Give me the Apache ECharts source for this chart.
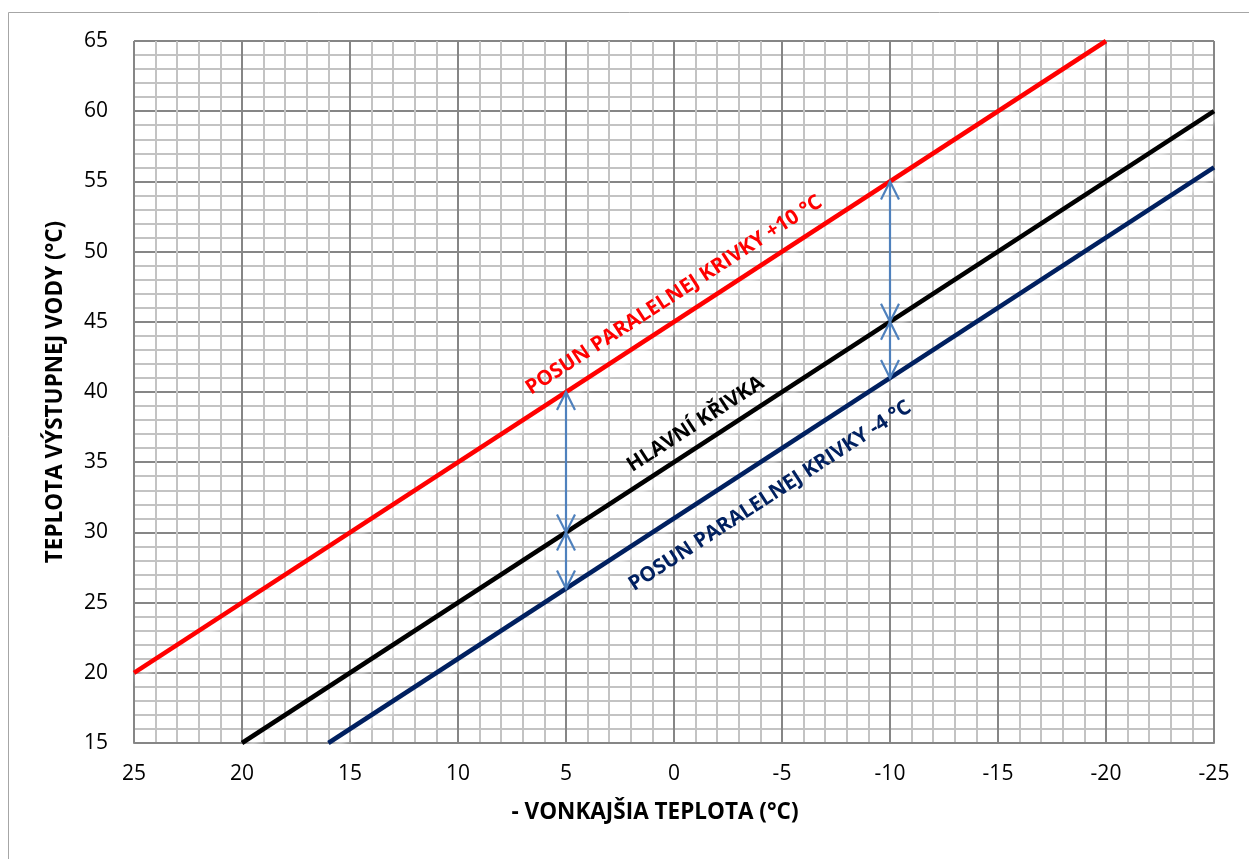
<!DOCTYPE html>
<html>
<head>
<meta charset="utf-8">
<script src="https://cdn.jsdelivr.net/npm/echarts@6/dist/echarts.min.js"></script>
<style>
  html, body { margin: 0; padding: 0; background: #fff; }
  #chart { width: 1249px; height: 859px; }
</style>
</head>
<body>
<div id="chart"></div>
<script>
// outdoor temperature is shown reversed: 25 on the left, -25 on the right
var xTicks = [25, 20, 15, 10, 5, 0, -5, -10, -15, -20, -25];
var yTicks = [15, 20, 25, 30, 35, 40, 45, 50, 55, 60, 65];

// curves (x = outdoor temp, y = flow temp)
var mainX = [20, -25];
var mainY = [15, 60];
var upX = [25, -20];      // +10 °C shift
var upY = [20, 65];
var downX = [16, -25];    // -4 °C shift
var downY = [15, 56];

// shift arrows: [x, from, to]
var arrows = [
    [5, 30, 40],
    [5, 30, 26],
    [-10, 45, 55],
    [-10, 45, 41]
];

// curve labels: [x, y, text]
var labelsUp = [[0, 46.9, 'POSUN PARALELNEJ KRIVKY +10 °C']];
var labelsMain = [[-1.0, 37.7, 'HLAVNÍ KŘIVKA']];
var labelsDown = [[-4.45, 32.6, 'POSUN PARALELNEJ KRIVKY -4 °C']];

var font = '"Open Sans", "Noto Sans", sans-serif';

var zip = function(xs, ys){
    return xs.map(function(x, i){ return [x, ys[i]]; });
};

var myChart = echarts.init(document.getElementById('chart'));

var curve = function(name, xs, ys, color){
    return {
        name: name,
        type: 'line',
        data: zip(xs, ys),
        symbol: 'none',
        silent: true,
        z: 3,
        lineStyle: {
            color: color,
            width: 4.5,
            shadowColor: 'rgba(255,255,255,0.95)',
            shadowBlur: 6,
            shadowOffsetX: 3,
            shadowOffsetY: 5
        }
    };
};

var labelSeries = function(data, color){
    return {
        type: 'scatter',
        data: data,
        symbolSize: 0,
        silent: true,
        z: 6,
        itemStyle: { opacity: 1 },
        label: {
            show: true,
            position: 'inside',
            rotate: 33,
            color: color,
            opacity: 1,
            fontFamily: font,
            fontWeight: 'bold',
            fontSize: 20.5,
            formatter: function(p){ return p.data[2]; }
        }
    };
};

var head = function(x, y, dir){
    var len = 18, half = 9;
    return [[x - half, y + dir * len], [x, y], [x + half, y + dir * len]];
};

var arrowSeries = {
    type: 'custom',
    data: arrows,
    silent: true,
    z: 5,
    renderItem: function(params, api){
        var p0 = api.coord([api.value(0), api.value(1)]);
        var p1 = api.coord([api.value(0), api.value(2)]);
        var dir = p1[1] < p0[1] ? 1 : -1; // head at p1 opens towards p0
        var style = { stroke: '#4f81bd', lineWidth: 2.2, fill: null };
        return {
            type: 'group',
            children: [
                { type: 'line', shape: { x1: p0[0], y1: p0[1], x2: p1[0], y2: p1[1] }, style: style },
                { type: 'polyline', shape: { points: head(p1[0], p1[1], dir) }, style: style },
                { type: 'polyline', shape: { points: head(p0[0], p0[1], -dir) }, style: style }
            ]
        };
    }
};

var option = {
    backgroundColor: '#fff',
    animation: false,
    graphic: [{
        type: 'rect',
        shape: { x: 8.5, y: 12.5, width: 1300, height: 900 },
        style: { fill: null, stroke: '#a6a6a6', lineWidth: 1 },
        z: -1
    }],
    grid: {
        left: 134,
        right: 35,
        top: 41,
        bottom: 116,
        outerBoundsMode: 'none'
    },
    xAxis: {
        type: 'value',
        inverse: true,
        min: -25,
        max: 25,
        interval: 5,
        name: '- VONKAJŠIA TEPLOTA (°C)',
        nameLocation: 'middle',
        nameGap: 58,
        nameTextStyle: {
            fontFamily: font,
            fontWeight: 'bold',
            fontSize: 22.5,
            color: '#000',
            padding: [0, 38, 0, 0]
        },
        axisLine: { show: true, lineStyle: { color: '#868686', width: 2 } },
        axisTick: { show: false },
        axisLabel: {
            margin: 21,
            fontFamily: font,
            fontSize: 21,
            color: '#000'
        },
        splitLine: { show: true, lineStyle: { color: '#868686', width: 2 } },
        minorTick: { show: false, splitNumber: 5 },
        minorSplitLine: { show: true, lineStyle: { color: '#c3c3c3', width: 2 } }
    },
    yAxis: {
        type: 'value',
        min: 15,
        max: 65,
        interval: 5,
        name: 'TEPLOTA VÝSTUPNEJ VODY (°C)',
        nameLocation: 'middle',
        nameGap: 67,
        nameTextStyle: {
            fontFamily: font,
            fontWeight: 'bold',
            fontSize: 22.5,
            color: '#000'
        },
        axisLine: { show: true, lineStyle: { color: '#868686', width: 2 } },
        axisTick: { show: true, length: 6, lineStyle: { color: '#868686', width: 1 } },
        axisLabel: {
            margin: 26,
            fontFamily: font,
            fontSize: 21,
            color: '#000'
        },
        splitLine: { show: true, lineStyle: { color: '#868686', width: 2 } },
        minorTick: { show: false, splitNumber: 5 },
        minorSplitLine: { show: true, lineStyle: { color: '#c3c3c3', width: 2 } }
    },
    series: [
        curve('HLAVNÍ KŘIVKA', mainX, mainY, '#000000'),
        curve('+10', upX, upY, '#ff0000'),
        curve('-4', downX, downY, '#002060'),
        arrowSeries,
        labelSeries(labelsUp, '#ff0000'),
        labelSeries(labelsMain, '#000000'),
        labelSeries(labelsDown, '#002060')
    ]
};

myChart.setOption(option);
</script>
</body>
</html>
